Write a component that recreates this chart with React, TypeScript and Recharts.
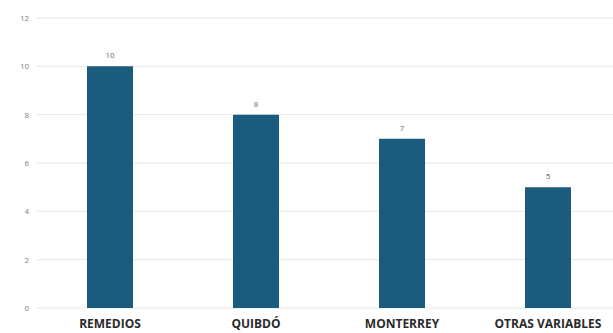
import { Bar, BarChart, CartesianGrid, LabelList, XAxis, YAxis } from 'recharts';

const categories = ['REMEDIOS', 'QUIBDÓ', 'MONTERREY', 'OTRAS VARIABLES'];
const values = [10, 8, 7, 5];
const yTicks = [0, 2, 4, 6, 8, 10, 12];

const data = categories.map((name, i) => ({ name, value: values[i] }));

export default function App() {
  return (
    <div style={{ position: 'absolute', left: 0, top: 0, background: '#fff', overflow: 'hidden', width: 613, height: 333 }}>
      <BarChart
        width={613}
        height={333}
        data={data}
        margin={{ top: 18, right: -8, bottom: 0, left: 0 }}
        barSize={46}
      >
        <CartesianGrid vertical={false} stroke="#e6e6e6" />
        <XAxis
          dataKey="name"
          axisLine={false}
          tickLine={false}
          height={25}
          tickMargin={5}
          interval={0}
          tick={{ fill: '#2a2a2a', fontSize: 12, fontWeight: 700, fontFamily: 'Open Sans' }}
        />
        <YAxis
          domain={[0, 12]}
          ticks={yTicks}
          axisLine={false}
          tickLine={false}
          width={37}
          tick={{ fill: '#888', fontSize: 8, fontFamily: 'Roboto' }}
        />
        <Bar dataKey="value" fill="#1b5c7c" isAnimationActive={false}>
          <LabelList dataKey="value" position="top" offset={8} fill="#777" fontSize={8} fontFamily="Roboto" />
        </Bar>
      </BarChart>
    </div>
  );
}
